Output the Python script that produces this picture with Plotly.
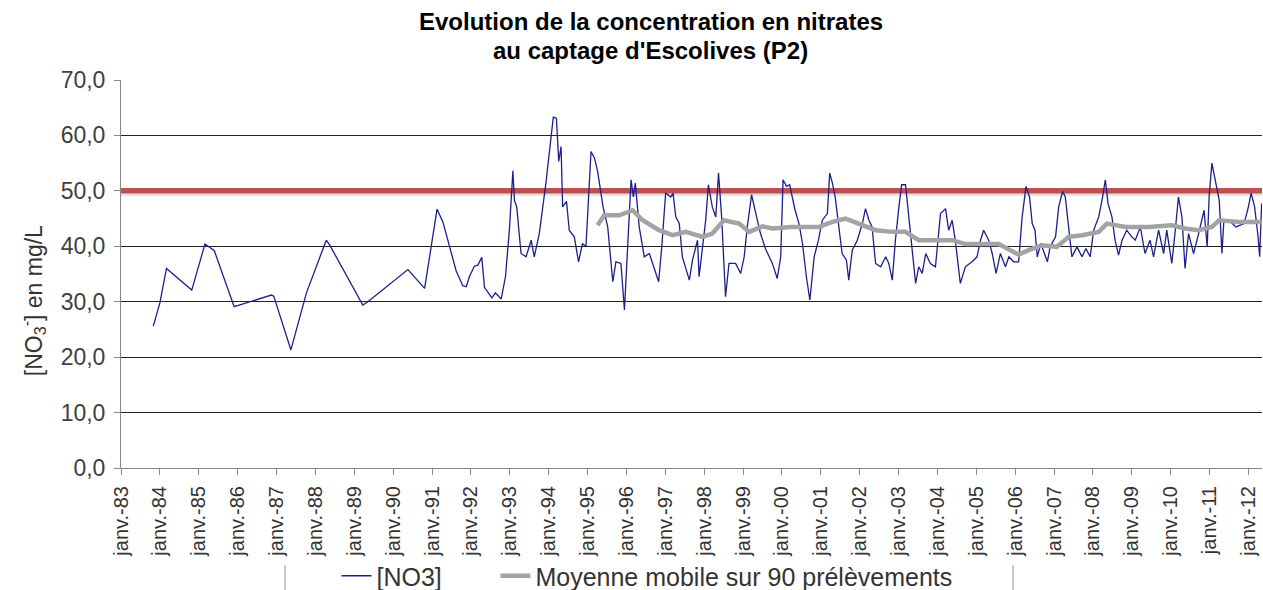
import plotly.graph_objects as go

annees_no3 = [
    1983.83, 1984.00, 1984.17, 1984.82, 1985.16, 1985.40, 1985.91, 1986.23,
    1986.87, 1986.93, 1987.37, 1987.77, 1988.28, 1988.37, 1989.22, 1989.35,
    1990.38, 1990.81, 1991.13, 1991.28, 1991.62, 1991.79, 1991.88, 1991.96,
    1992.09, 1992.18, 1992.28, 1992.35, 1992.54, 1992.63, 1992.78, 1992.89,
    1992.99, 1993.08, 1993.12, 1993.18, 1993.29, 1993.42, 1993.55, 1993.63,
    1993.76, 1993.93, 1994.06, 1994.12, 1994.20, 1994.26, 1994.32, 1994.36,
    1994.46, 1994.53, 1994.66, 1994.77, 1994.87, 1994.96, 1995.09, 1995.18,
    1995.26, 1995.35, 1995.40, 1995.52, 1995.65, 1995.73, 1995.86, 1995.95,
    1996.03, 1996.12, 1996.18, 1996.23, 1996.33, 1996.46, 1996.59, 1996.67,
    1996.83, 1996.91, 1997.01, 1997.14, 1997.20, 1997.27, 1997.36, 1997.44,
    1997.62, 1997.70, 1997.83, 1997.87, 1998.04, 1998.11, 1998.21, 1998.30,
    1998.37, 1998.45, 1998.55, 1998.64, 1998.81, 1998.94, 1999.03, 1999.11,
    1999.22, 1999.33, 1999.45, 1999.58, 1999.75, 1999.88, 1999.97, 2000.03,
    2000.12, 2000.20, 2000.27, 2000.34, 2000.44, 2000.53, 2000.63, 2000.72,
    2000.83, 2000.94, 2001.04, 2001.17, 2001.23, 2001.30, 2001.37, 2001.47,
    2001.55, 2001.66, 2001.72, 2001.81, 2001.94, 2002.07, 2002.15, 2002.24,
    2002.32, 2002.41, 2002.54, 2002.67, 2002.75, 2002.84, 2002.92, 2003.01,
    2003.08, 2003.18, 2003.27, 2003.35, 2003.44, 2003.52, 2003.61, 2003.70,
    2003.82, 2003.95, 2004.08, 2004.21, 2004.29, 2004.38, 2004.46, 2004.59,
    2004.72, 2004.89, 2005.02, 2005.11, 2005.19, 2005.32, 2005.41, 2005.51,
    2005.62, 2005.75, 2005.84, 2005.96, 2006.09, 2006.18, 2006.28, 2006.37,
    2006.44, 2006.51, 2006.57, 2006.66, 2006.83, 2006.90, 2007.04, 2007.12,
    2007.22, 2007.29, 2007.38, 2007.46, 2007.59, 2007.72, 2007.82, 2007.93,
    2008.02, 2008.15, 2008.25, 2008.32, 2008.39, 2008.49, 2008.57, 2008.66,
    2008.75, 2008.87, 2009.00, 2009.09, 2009.22, 2009.34, 2009.47, 2009.56,
    2009.69, 2009.82, 2009.90, 2010.03, 2010.12, 2010.20, 2010.29, 2010.37,
    2010.46, 2010.59, 2010.72, 2010.86, 2010.94, 2010.99, 2011.06, 2011.14,
    2011.25, 2011.32, 2011.37, 2011.50, 2011.68, 2011.89, 2012.00, 2012.07,
    2012.16, 2012.25, 2012.29, 2012.34,
]
no3 = [
    25.6, 29.8, 36.0, 32.1, 40.4, 39.2, 29.1, 29.8,
    31.2, 31.0, 21.3, 31.6, 41.1, 40.2, 29.4, 30.0,
    35.8, 32.4, 46.7, 44.4, 35.6, 32.9, 32.7, 34.5,
    36.4, 36.6, 38.0, 32.6, 30.7, 31.6, 30.5, 34.5,
    42.9, 53.6, 48.3, 47.1, 38.7, 38.1, 41.1, 38.1,
    42.3, 51.4, 59.8, 63.3, 63.1, 55.3, 58.0, 47.1,
    48.1, 42.9, 41.7, 37.2, 40.5, 39.9, 57.1, 55.9,
    53.5, 48.9, 47.1, 43.5, 33.6, 37.2, 36.9, 28.5,
    40.5, 52.0, 48.9, 51.4, 43.5, 38.1, 38.7, 36.9,
    33.6, 39.9, 49.6, 48.9, 49.6, 45.3, 44.1, 38.1,
    33.9, 37.5, 41.1, 34.5, 44.7, 51.1, 47.1, 45.3,
    53.2, 45.3, 30.9, 36.9, 36.9, 35.1, 38.1, 43.5,
    49.3, 45.9, 42.3, 39.5, 37.0, 34.2, 38.1, 52.0,
    50.8, 51.1, 48.9, 46.5, 44.1, 40.5, 34.5, 30.3,
    38.1, 41.1, 44.7, 45.9, 53.2, 51.4, 48.9, 42.9,
    38.7, 37.5, 33.9, 39.3, 41.1, 44.1, 46.8, 44.7,
    43.5, 36.9, 36.3, 38.1, 36.9, 33.9, 41.1, 47.1,
    51.1, 51.1, 45.3, 39.3, 33.3, 36.3, 35.1, 38.7,
    36.9, 36.3, 45.9, 46.8, 42.9, 44.7, 41.1, 33.3,
    36.3, 37.2, 38.1, 41.1, 42.9, 41.1, 38.7, 35.1,
    38.7, 36.3, 38.1, 37.2, 37.2, 45.3, 50.8, 48.9,
    44.1, 42.9, 38.1, 40.5, 37.2, 39.9, 41.7, 47.1,
    49.9, 48.9, 43.5, 38.1, 39.9, 38.1, 39.6, 38.1,
    42.9, 45.3, 48.9, 52.0, 47.7, 45.3, 41.1, 38.4,
    41.1, 42.9, 41.7, 41.1, 43.5, 38.7, 41.1, 38.1,
    42.9, 38.7, 42.9, 36.9, 42.9, 48.9, 45.3, 36.0,
    42.3, 38.7, 42.3, 46.5, 39.9, 48.9, 55.0, 52.0,
    48.3, 38.7, 44.7, 44.7, 43.5, 44.1, 47.1, 49.6,
    47.1, 41.7, 38.1, 47.7,
]

# moving average over 90 samples
annees_moy = [
    1995.26, 1995.43, 1995.82, 1996.16, 1996.42, 1996.84, 1997.19, 1997.53,
    1997.96, 1998.21, 1998.51, 1998.90, 1999.16, 1999.50, 1999.76, 2000.23,
    2000.95, 2001.30, 2001.64, 2001.98, 2002.41, 2002.84, 2003.18, 2003.52,
    2004.04, 2004.38, 2004.72, 2005.58, 2005.84, 2006.09, 2006.35, 2006.69,
    2007.07, 2007.38, 2007.72, 2008.15, 2008.36, 2008.84, 2009.44, 2010.03,
    2010.37, 2010.72, 2011.06, 2011.25, 2011.76, 2012.34,
]
moyenne = [
    43.8, 45.6, 45.6, 46.5, 44.7, 42.9, 42.0, 42.6,
    41.7, 42.3, 44.7, 44.1, 42.6, 43.6, 43.2, 43.5,
    43.5, 44.4, 45.0, 44.1, 42.9, 42.6, 42.6, 41.1,
    41.1, 41.1, 40.4, 40.4, 39.4, 38.5, 39.3, 40.2,
    39.9, 41.7, 42.0, 42.6, 44.1, 43.5, 43.5, 43.8,
    43.2, 42.9, 43.5, 44.7, 44.4, 44.4,
]

limite = 50.0
annees_ticks = list(range(1983, 2013))
labels_ticks = [
    'janv.-83', 'janv.-84', 'janv.-85', 'janv.-86', 'janv.-87', 'janv.-88',
    'janv.-89', 'janv.-90', 'janv.-91', 'janv.-92', 'janv.-93', 'janv.-94',
    'janv.-95', 'janv.-96', 'janv.-97', 'janv.-98', 'janv.-99', 'janv.-00',
    'janv.-01', 'janv.-02', 'janv.-03', 'janv.-04', 'janv.-05', 'janv.-06',
    'janv.-07', 'janv.-08', 'janv.-09', 'janv.-10', 'janv.-11', 'janv.-12',
]

x_debut, x_fin = 1983.0, 2012.35
police = 'Liberation Sans, Arial, sans-serif'

fig = go.Figure()

# 50 mg/L limit, soft shadow + red bar
fig.add_trace(go.Scatter(
    x=[x_debut, x_fin], y=[limite - 0.5, limite - 0.5], mode='lines',
    line=dict(color='rgba(0,0,0,0.10)', width=5),
    showlegend=False, hoverinfo='skip'))
fig.add_trace(go.Scatter(
    x=[x_debut, x_fin], y=[limite, limite], mode='lines',
    line=dict(color='#C0504D', width=5.5),
    showlegend=False, hoverinfo='skip'))

fig.add_trace(go.Scatter(
    x=annees_no3, y=no3, mode='lines',
    name='[NO3]' + '\u00a0' * 7,
    line=dict(color='#1C1F8C', width=1.3)))
fig.add_trace(go.Scatter(
    x=annees_moy, y=moyenne, mode='lines',
    name='Moyenne mobile sur 90 prélèvements',
    line=dict(color='#A3A3A3', width=4.5)))

fig.update_layout(
    width=1263,
    height=590,
    margin=dict(l=121, r=1, t=80, b=122, autoexpand=False),
    paper_bgcolor='white',
    plot_bgcolor='white',
    separators=', ',
    font=dict(family=police, color='#333333'),
    xaxis=dict(
        range=[x_debut, x_fin],
        tickmode='array',
        tickvals=annees_ticks,
        ticktext=labels_ticks,
        tickangle=-90,
        tickfont=dict(size=20, color='#333333'),
        ticks='outside', ticklen=6, tickcolor='#888888',
        ticklabelstandoff=3,
        showline=True, linecolor='#888888', linewidth=1,
        showgrid=False, zeroline=False, automargin=False,
    ),
    yaxis=dict(
        range=[0, 70],
        dtick=10,
        tickformat='.1f',
        tickfont=dict(size=23, color='#404040'),
        ticks='outside', ticklen=6, tickcolor='#888888',
        ticklabelstandoff=4,
        showline=True, linecolor='#888888', linewidth=1,
        showgrid=True, gridcolor='#222222', gridwidth=1,
        zeroline=False, automargin=False,
    ),
    legend=dict(
        orientation='h',
        x=0.461, xanchor='center',
        yref='container', y=(590 - 576) / 590, yanchor='middle',
        font=dict(size=25, color='#333333'),
        bgcolor='rgba(0,0,0,0)',
        itemwidth=30,
    ),
    annotations=[
        dict(text='<b>Evolution de la concentration en nitrates</b>',
             xref='paper', yref='paper', x=0.4645, y=1.1495,
             xanchor='center', yanchor='middle', showarrow=False,
             font=dict(size=24, color='black')),
        dict(text='<b>au captage d\'Escolives (P2)</b>',
             xref='paper', yref='paper', x=0.4645, y=1.0773,
             xanchor='center', yanchor='middle', showarrow=False,
             font=dict(size=24, color='black')),
        dict(text='[NO<sub>3</sub><sup>-</sup>] en mg/L',
             xref='paper', yref='paper', x=-0.0771, y=0.43,
             xanchor='center', yanchor='middle',
             textangle=-90, showarrow=False,
             font=dict(size=23, color='#333333')),
    ],
    shapes=[
        dict(type='line', xref='paper', yref='paper',
             x0=(285 - 121) / 1141, x1=(285 - 121) / 1141,
             y0=-0.25, y1=-0.315, line=dict(color='#999999', width=1)),
        dict(type='line', xref='paper', yref='paper',
             x0=(1013 - 121) / 1141, x1=(1013 - 121) / 1141,
             y0=-0.25, y1=-0.315, line=dict(color='#999999', width=1)),
    ],
)

fig.write_html('out.html',
               config={'displayModeBar': False},
               post_script="document.body.style.margin='0';")
